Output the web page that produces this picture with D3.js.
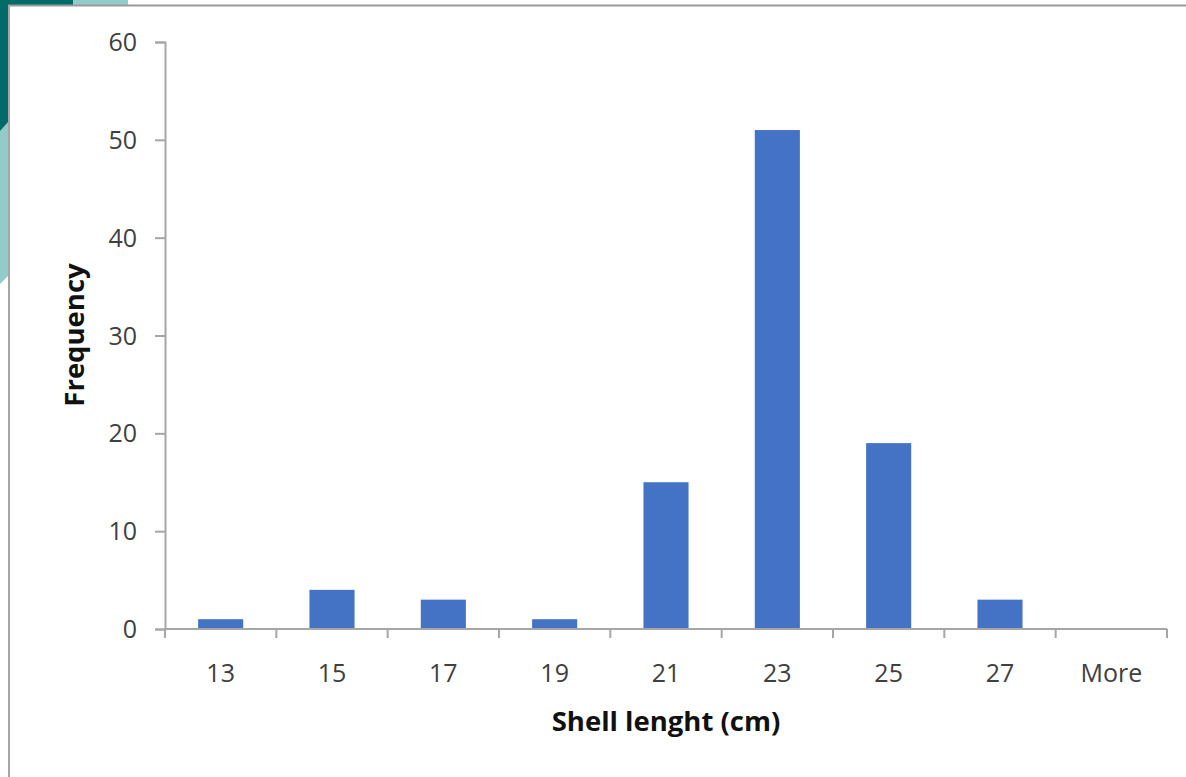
<!DOCTYPE html>
<html>
<head>
<meta charset="utf-8">
<script src="https://cdn.jsdelivr.net/npm/d3@7"></script>
<style>
  html, body { margin: 0; padding: 0; background: #ffffff; }
  svg { display: block; }
</style>
</head>
<body>
<svg id="chart" width="1186" height="777"></svg>
<script>
const categories = ["13", "15", "17", "19", "21", "23", "25", "27", "More"];
const frequencies = [1, 4, 3, 1, 15, 51, 19, 3, 0];
const yTicks = [0, 10, 20, 30, 40, 50, 60];
const xTitle = "Shell lenght (cm)";
const yTitle = "Frequency";

const svg = d3.select("#chart");
const W = 1186, H = 777;

// slide decoration (top-left)
svg.append("rect").attr("x", 0).attr("y", 0).attr("width", 128).attr("height", 5).attr("fill", "#93cbcb");
svg.append("rect").attr("x", 0).attr("y", 0).attr("width", 73).attr("height", 5).attr("fill", "#006b68");
svg.append("path").attr("d", "M0,0 L8,0 L8,276 L0,284 Z").attr("fill", "#93cbcb");
svg.append("path").attr("d", "M0,0 L8,0 L8,122 L0,131 Z").attr("fill", "#006b68");

// frame
svg.append("line").attr("x1", 8).attr("x2", W).attr("y1", 5.5).attr("y2", 5.5).attr("stroke", "#9a9a9a").attr("stroke-width", 2);
svg.append("line").attr("x1", 9).attr("x2", 9).attr("y1", 5).attr("y2", H).attr("stroke", "#a6a6a6").attr("stroke-width", 2);

const plot = { left: 165, right: 1167, top: 42, bottom: 629 };

const x = d3.scaleBand().domain(categories).range([plot.left, plot.right]).paddingInner(0.595).paddingOuter(0.2975);
const y = d3.scaleLinear().domain([0, 60]).range([plot.bottom, plot.top]);

const font = "'Open Sans', 'Liberation Sans', sans-serif";
const textColor = "#404040";
const axisColor = "#a6a6a6";

// bars
svg.append("g").selectAll("rect").data(frequencies).join("rect")
  .attr("x", (d, i) => x(categories[i]))
  .attr("y", d => y(d))
  .attr("width", x.bandwidth())
  .attr("height", d => y(0) - y(d))
  .attr("fill", "#4472c4");

// y axis
const yAxis = svg.append("g").attr("transform", `translate(${plot.left},0)`)
  .call(d3.axisLeft(y).tickValues(yTicks).tickSize(10).tickPadding(18).tickFormat(d3.format("d")));
yAxis.select(".domain").attr("stroke", axisColor).attr("stroke-width", 2);
yAxis.selectAll(".tick line").attr("stroke", axisColor).attr("stroke-width", 2);
yAxis.selectAll(".tick text").attr("fill", textColor).attr("font-family", font).attr("font-size", 25).attr("dy", "0.34em");

// x axis: ticks at band boundaries
const boundaries = categories.map(c => x(c) - x.step() * x.paddingInner() / 2).concat([plot.right]);
const xg = svg.append("g");
xg.append("line").attr("x1", plot.left).attr("x2", plot.right).attr("y1", y(0)).attr("y2", y(0)).attr("stroke", axisColor).attr("stroke-width", 2);
xg.selectAll("line.tk").data(boundaries).join("line").attr("class", "tk")
  .attr("x1", d => d).attr("x2", d => d).attr("y1", y(0)).attr("y2", y(0) + 9)
  .attr("stroke", axisColor).attr("stroke-width", 2);
xg.selectAll("text").data(categories).join("text")
  .attr("x", d => x(d) + x.bandwidth() / 2).attr("y", 682)
  .attr("text-anchor", "middle").attr("fill", textColor).attr("font-family", font).attr("font-size", 25)
  .text(d => d);

// titles
svg.append("text").attr("x", (plot.left + plot.right) / 2).attr("y", 731)
  .attr("text-anchor", "middle").attr("font-family", font).attr("font-weight", "bold").attr("font-size", 27.5)
  .attr("fill", "#111").text(xTitle);
svg.append("text").attr("transform", "translate(84,335) rotate(-90)")
  .attr("text-anchor", "middle").attr("font-family", font).attr("font-weight", "bold").attr("font-size", 27.5)
  .attr("fill", "#111").text(yTitle);
</script>
</body>
</html>
